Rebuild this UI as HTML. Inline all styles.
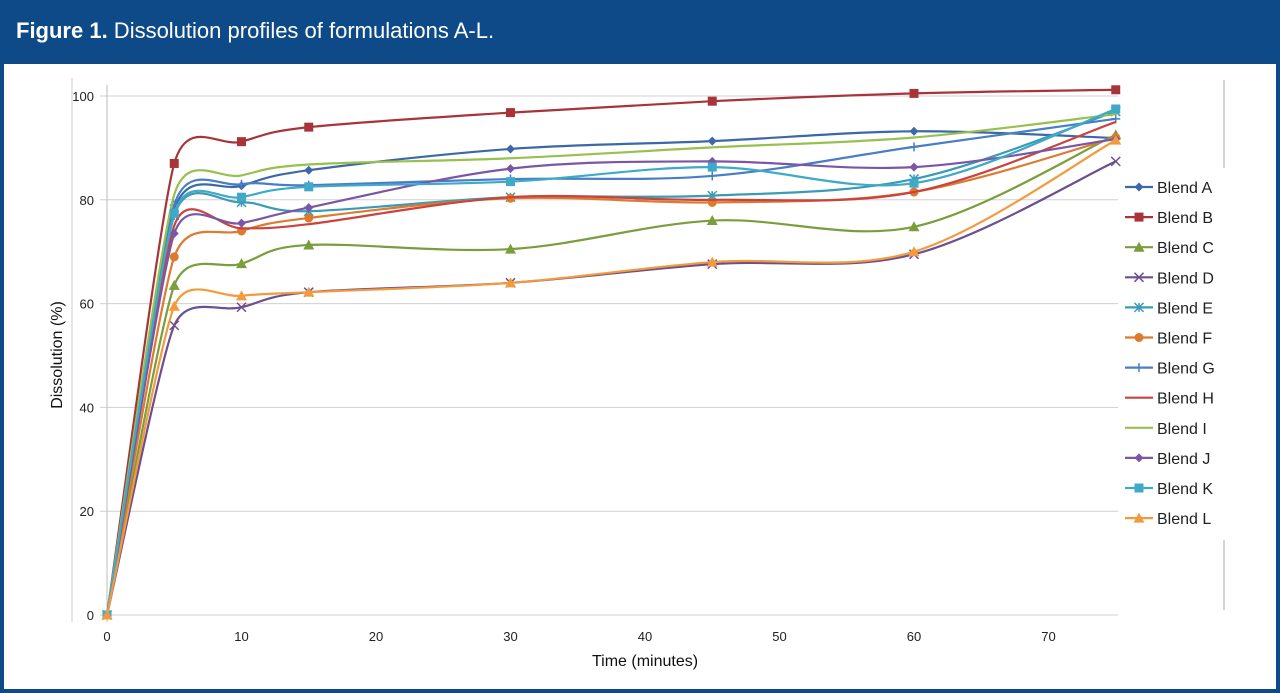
<!DOCTYPE html>
<html><head><meta charset="utf-8"><style>
html,body{margin:0;padding:0;width:1280px;height:693px;overflow:hidden;background:#fff;font-family:"Liberation Sans",sans-serif}
#frame{position:absolute;left:0;top:0;width:1272px;height:689px;border:4px solid #0d4a87;border-top:0;border-bottom-width:4px;background:#fff}
#hdr{position:absolute;left:0;top:0;width:1280px;height:64px;background:#0d4a87;color:#fff;font-size:22px}
#hdr span{position:absolute;left:16px;top:18px;white-space:nowrap}
svg{position:absolute;left:0;top:0}
</style></head><body>
<div id="frame"></div>
<div id="hdr"><span><b>Figure 1.</b> Dissolution profiles of formulations A-L.</span></div>
<svg id="chart" width="1280" height="693"></svg>
<script>
const times=[0,5,10,15,30,45,60,75];
const names=["Blend A","Blend B","Blend C","Blend D","Blend E","Blend F","Blend G","Blend H","Blend I","Blend J","Blend K","Blend L"];
const sA=[0,78,82.7,85.7,89.8,91.3,93.2,91.9];
const sB=[0,87,91.2,94,96.8,99,100.5,101.2];
const sC=[0,63.5,67.7,71.3,70.5,76,74.8,92.5];
const sD=[0,55.8,59.3,62.2,64,67.6,69.5,87.4];
const sE=[0,77,79.5,77.8,80.5,80.8,84,97];
const sF=[0,69,74,76.5,80.3,79.5,81.5,92];
const sG=[0,79,83,82.8,84,84.6,90.2,95.6];
const sH=[0,75,74.5,75.3,80.5,80,81.5,95];
const sI=[0,81,84.7,86.8,88,90.1,92,96.5];
const sJ=[0,73.5,75.5,78.5,86,87.4,86.3,91.7];
const sK=[0,77.4,80.5,82.5,83.5,86.3,83.2,97.5];
const sL=[0,59.5,61.5,62.2,64,68,70,91.5];
const series=[sA,sB,sC,sD,sE,sF,sG,sH,sI,sJ,sK,sL];
const colors=["#3d68a8","#a8343a","#7a9e3c","#6b4f8f","#3a9bb5","#dd7a2e","#4a7ec4","#c9443f","#98c04e","#7b56a6","#3fa9c8","#f39a3c"];
const markers=["diamond","square","triangle","x","star","circle","plus","none","none","diamond","square","triangle"];
const yTicks=[0,20,40,60,80,100];
const xTicks=[0,10,20,30,40,50,60,70];
const X=t=>107+t*13.45, Y=v=>615-v*5.19;
const svg=document.getElementById('chart');const NS='http://www.w3.org/2000/svg';
function mk(tag,at,parent){const e=document.createElementNS(NS,tag);for(const k in at)e.setAttribute(k,at[k]);(parent||svg).appendChild(e);return e;}
yTicks.forEach(v=>{
 const g=mk('line',{x1:100,x2:1118,y1:Y(v),y2:Y(v),stroke:'#d0d0d0','stroke-width':1});
 
 
 const t=mk('text',{x:94,y:Y(v)+5,'text-anchor':'end','font-size':13,fill:'#222'});t.textContent=v;
 
 
});
const ax=mk('line',{x1:107,x2:107,y1:85,y2:622,stroke:'#bbb'});


const vb=mk('line',{x1:72,x2:72,y1:78,y2:622,stroke:'#ccc'});


xTicks.forEach(v=>{
 const t=mk('text',{x:X(v),y:641,'text-anchor':'middle','font-size':13,fill:'#222'});t.textContent=v;
 
 
});
const xt=mk('text',{x:645,y:666,'text-anchor':'middle','font-size':16,fill:'#111'});xt.textContent='Time (minutes)';


const yt=mk('text',{x:0,y:0,'text-anchor':'middle','font-size':16,fill:'#111',transform:'translate(62,355) rotate(-90)'});yt.textContent='Dissolution (%)';


[[80,168],[540,610]].forEach(r=>{const l=mk('line',{x1:1224,x2:1224,y1:r[0],y2:r[1],stroke:'#aaa'});
 
 });
function path(pts){let d='M'+pts[0][0]+','+pts[0][1];
 for(let i=0;i<pts.length-1;i++){const p0=pts[Math.max(0,i-1)],p1=pts[i],p2=pts[i+1],p3=pts[Math.min(pts.length-1,i+2)];
 const k1=(i===1)?0.1:1/6, k2=(i===0)?0.1:1/6;
 d+=` C${p1[0]+(p2[0]-p0[0])*k1},${p1[1]+(p2[1]-p0[1])*k1} ${p2[0]-(p3[0]-p1[0])*k2},${p2[1]-(p3[1]-p1[1])*k2} ${p2[0]},${p2[1]}`;}return d;}
function marker(type,x,y,c,parent){
 const s=4.5;let e=null;
 if(type==='diamond')e=mk('polygon',{points:`${x},${y-s} ${x+s},${y} ${x},${y+s} ${x-s},${y}`,fill:c},parent);
 else if(type==='square')e=mk('rect',{x:x-s,y:y-s,width:2*s,height:2*s,fill:c},parent);
 else if(type==='triangle')e=mk('polygon',{points:`${x},${y-s-1} ${x+s+1},${y+s} ${x-s-1},${y+s}`,fill:c},parent);
 else if(type==='circle')e=mk('circle',{cx:x,cy:y,r:s,fill:c},parent);
 else if(type==='x')e=mk('path',{d:`M${x-s},${y-s}L${x+s},${y+s}M${x-s},${y+s}L${x+s},${y-s}`,stroke:c,'stroke-width':1.5},parent);
 else if(type==='plus')e=mk('path',{d:`M${x-s},${y}L${x+s},${y}M${x},${y-s}L${x},${y+s}`,stroke:c,'stroke-width':1.5},parent);
 else if(type==='star')e=mk('path',{d:`M${x-s},${y-s}L${x+s},${y+s}M${x-s},${y+s}L${x+s},${y-s}M${x},${y-s}L${x},${y+s}`,stroke:c,'stroke-width':1.5},parent);
 if(e){
 }
}
series.forEach((s,i)=>{
 const g=mk('g',{});
 
 
 const pts=s.map((v,j)=>[X(times[j]),Y(v)]);
 const p=mk('path',{d:path(pts),fill:'none',stroke:colors[i],'stroke-width':2.2},g);
 
 
 pts.forEach(q=>marker(markers[i],q[0],q[1],colors[i],g));
 const ly=187+i*30.1;
 const lg=mk('g',{},svg);
 
 
 mk('line',{x1:1125,x2:1153,y1:ly,y2:ly,stroke:colors[i],'stroke-width':2.2},lg);
 marker(markers[i],1139,ly,colors[i],lg);
 const t=mk('text',{x:1157,y:ly+6,'font-size':16,fill:'#222'},lg);t.textContent=names[i];
});
</script>
</body></html>
